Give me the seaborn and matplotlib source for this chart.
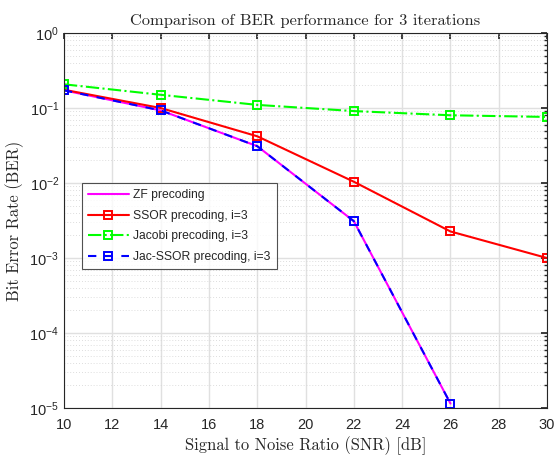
import matplotlib
matplotlib.use("Agg")
import matplotlib.pyplot as plt
import numpy as np
import seaborn as sns
from matplotlib.ticker import LogLocator, NullFormatter

snr = [10, 14, 18, 22, 26, 30]
ber_zf = [0.172, 0.093, 0.031, 0.0031, 1.15e-5]
ber_ssor = [0.175, 0.100, 0.042, 0.0104, 0.00226, 0.00100]
ber_jacobi = [0.207, 0.150, 0.110, 0.091, 0.080, 0.076]
ber_jacssor = [0.172, 0.093, 0.031, 0.0031, 1.15e-5]

sns.set_theme(style="white")
plt.rcParams["font.family"] = ["Liberation Sans", "DejaVu Sans"]
plt.rcParams["mathtext.fontset"] = "custom"
plt.rcParams["mathtext.rm"] = "Liberation Sans"
plt.rcParams["mathtext.it"] = "Liberation Sans:italic"
plt.rcParams["mathtext.bf"] = "Liberation Sans:bold"

fig = plt.figure(figsize=(5.56, 4.58), dpi=100)
ax = fig.add_axes([0.115, 0.109, 0.869, 0.819])

mk = dict(marker="s", markersize=5.5, markerfacecolor="none", markeredgewidth=1.4)

sns.lineplot(x=snr[:5], y=ber_zf, ax=ax, color="#FF00FF", linewidth=1.5,
             label="ZF precoding")
sns.lineplot(x=snr, y=ber_ssor, ax=ax, color="#FF0000", linewidth=1.5,
             markeredgecolor="#FF0000", label="SSOR precoding, i=3", **mk)
sns.lineplot(x=snr, y=ber_jacobi, ax=ax, color="#00FF00", linewidth=1.5,
             linestyle="-.", markeredgecolor="#00FF00",
             label="Jacobi precoding, i=3", **mk)
sns.lineplot(x=snr[:5], y=ber_jacssor, ax=ax, color="#0000FF", linewidth=1.5,
             linestyle=(0, (4, 4)), markeredgecolor="#0000FF",
             label="Jac-SSOR precoding, i=3", **mk)

ax.set_yscale("log")
ax.set_xlim(10, 30)
ax.set_ylim(1e-5, 1)
ax.set_xticks(np.arange(10, 31, 2))
ax.yaxis.set_major_locator(LogLocator(base=10, numticks=10))
ax.yaxis.set_minor_locator(LogLocator(base=10, subs=np.arange(2, 10), numticks=20))
ax.yaxis.set_minor_formatter(NullFormatter())

ax.grid(which="major", color="#E0E0E0", linewidth=1.0)
ax.grid(which="minor", axis="y", color="#D2D2D2", linestyle=(0, (1, 2.5)),
        linewidth=0.6)
ax.set_axisbelow(True)
for spine in ax.spines.values():
    spine.set_color("#262626")
    spine.set_linewidth(0.8)
ax.tick_params(which="both", direction="in", top=True, right=True,
               colors="#262626", labelsize=10.5)
ax.tick_params(which="major", length=4)
ax.tick_params(which="minor", length=2)
ax.tick_params(axis="x", pad=7)

ax.set_title("Comparison of BER performance for 3 iterations",
             fontsize=11.8, fontfamily="cmr10", color="#262626", pad=6)
ax.set_xlabel("Signal to Noise Ratio (SNR) [dB]",
              fontsize=11.9, fontfamily="cmr10", color="#262626", labelpad=3)
ax.set_ylabel("Bit Error Rate (BER)",
              fontsize=11.9, fontfamily="cmr10", color="#262626", labelpad=4)

leg = ax.legend(loc="upper left", bbox_to_anchor=(0.037, 0.6), fontsize=8.7,
                frameon=True, fancybox=False, edgecolor="#262626",
                handlelength=3.4, borderpad=0.5, labelspacing=0.72,
                handletextpad=0.35, borderaxespad=0)
leg.get_frame().set_linewidth(0.8)

fig.savefig("out.png", dpi=100)
